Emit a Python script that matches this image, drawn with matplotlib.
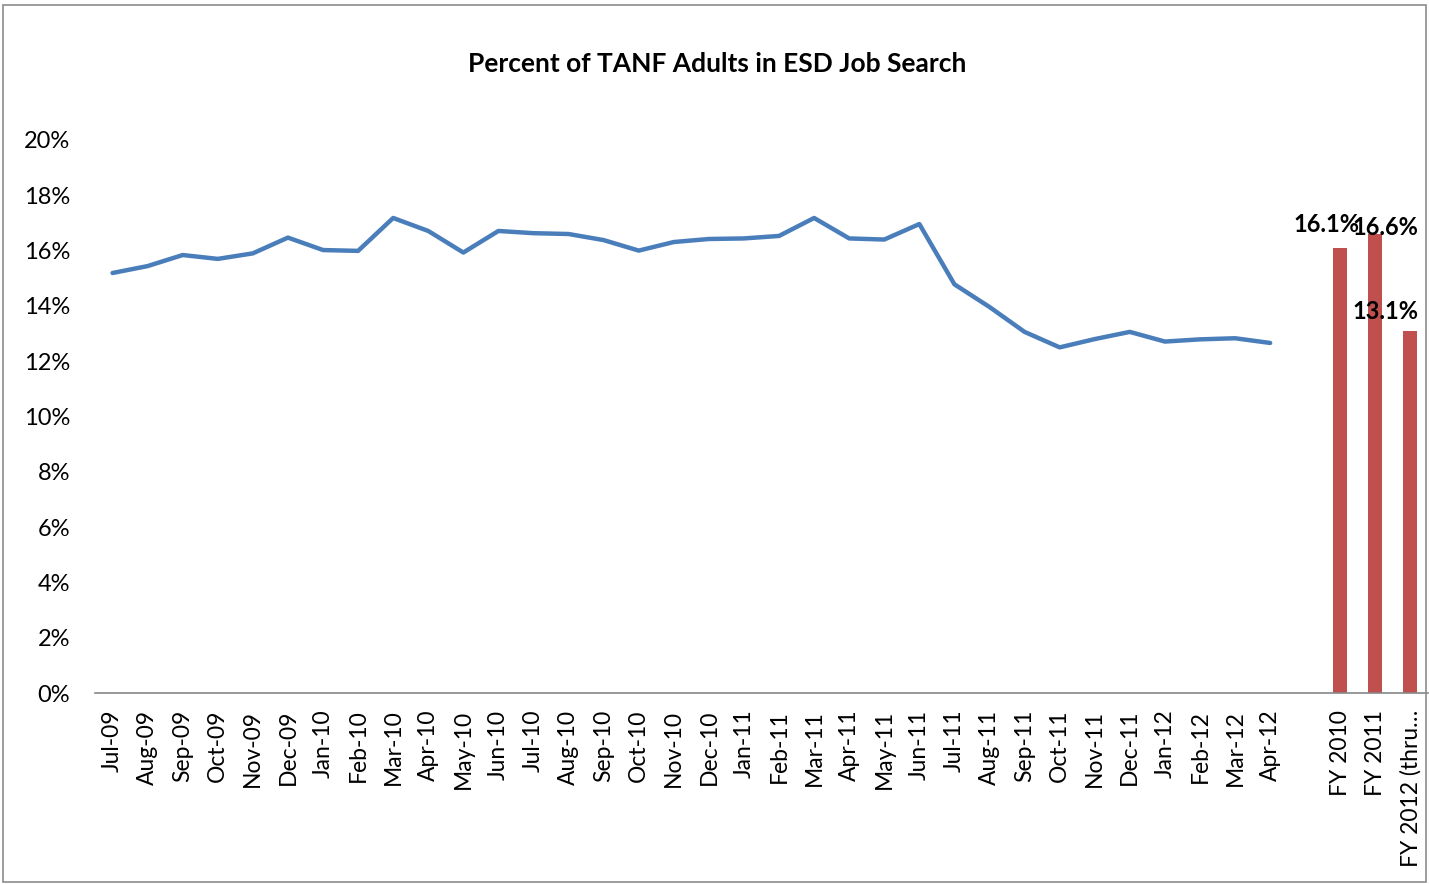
import matplotlib
matplotlib.use("Agg")
import matplotlib.pyplot as plt
from matplotlib.patches import Rectangle

plt.rcParams['font.family'] = ['Lato', 'DejaVu Sans']

months = ["Jul-09", "Aug-09", "Sep-09", "Oct-09", "Nov-09", "Dec-09", "Jan-10", "Feb-10",
          "Mar-10", "Apr-10", "May-10", "Jun-10", "Jul-10", "Aug-10", "Sep-10", "Oct-10",
          "Nov-10", "Dec-10", "Jan-11", "Feb-11", "Mar-11", "Apr-11", "May-11", "Jun-11",
          "Jul-11", "Aug-11", "Sep-11", "Oct-11", "Nov-11", "Dec-11", "Jan-12", "Feb-12",
          "Mar-12", "Apr-12"]
monthly_pct = [15.19, 15.44, 15.84, 15.70, 15.90, 16.47, 16.02, 15.99,
               17.18, 16.71, 15.93, 16.71, 16.63, 16.60, 16.38, 16.00,
               16.31, 16.42, 16.44, 16.53, 17.18, 16.44, 16.40, 16.96,
               14.78, 13.96, 13.06, 12.50, 12.80, 13.06, 12.71, 12.79,
               12.83, 12.66]
fy_labels = ["FY 2010", "FY 2011", "FY 2012 (thru\u2026"]
fy_pct = [16.1, 16.6, 13.1]

fig = plt.figure(figsize=(14.29, 8.84), dpi=100)
fig.patches.append(Rectangle((0.002, 0.002), 0.996, 0.992, transform=fig.transFigure,
                             fill=False, edgecolor="#8c8c8c", linewidth=1.2))
ax = fig.add_axes([95/1429, 1-693/884, (1428-95)/1429, (693-140)/884])

n_m = len(months)
x_m = list(range(n_m))
x_fy = [n_m + 1 + i for i in range(len(fy_labels))]

ax.plot(x_m, monthly_pct, color="#4A7EBB", linewidth=3.2, solid_joinstyle="round",
        solid_capstyle="round", zorder=3)
ax.bar(x_fy, fy_pct, width=0.4, color="#C0504D", zorder=2)

# label placement offsets (Excel nudged labels to stay inside the plot area)
label_dx = [-0.4, 0.3, -0.7]
label_dy = [0.86, 0.22, 0.68]
for xi, v, dx, dy in zip(x_fy, fy_pct, label_dx, label_dy):
    ax.text(xi + dx, v + dy, f"{v:.1f}%", ha="center", va="center", fontsize=17,
            fontweight="bold", color="black", zorder=4)

ax.set_xlim(-0.5, n_m + 3.5)
ax.set_ylim(0, 20)
ax.set_yticks(range(0, 21, 2))
ax.set_yticklabels([f"{v}%" for v in range(0, 21, 2)], fontsize=17)
ax.set_xticks(x_m + x_fy)
ax.set_xticklabels(months + fy_labels, rotation=90, fontsize=16.5)
ax.tick_params(axis="x", length=0, pad=12)
ax.tick_params(axis="y", length=0, pad=18)
for s in ["top", "right", "left"]:
    ax.spines[s].set_visible(False)
ax.spines["bottom"].set_color("#868686")
ax.spines["bottom"].set_linewidth(1.2)

fig.text(717/1429, 1-64/884, "Percent of TANF Adults in ESD Job Search", ha="center",
         va="center", fontsize=19, fontweight="bold")

fig.savefig("out.png", dpi=100)
